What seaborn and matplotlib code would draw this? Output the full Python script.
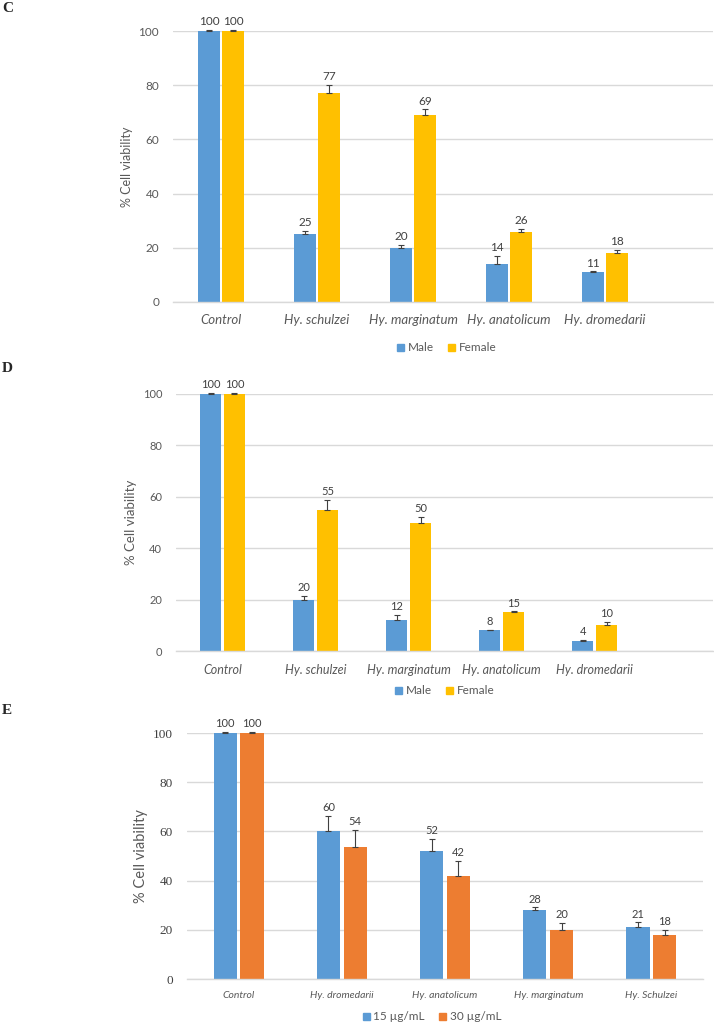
import matplotlib
matplotlib.use("Agg")
import matplotlib.pyplot as plt
import numpy as np
import pandas as pd
import seaborn as sns

sns.set_theme(style="white")
plt.rcParams['font.family'] = ['Lato', 'DejaVu Sans']

# Panel C / D: male vs female
species_cd = ['Control', 'Hy. schulzei', 'Hy. marginatum', 'Hy. anatolicum',
              'Hy. dromedarii']
sex_levels = ['Male', 'Female']

c_male = [100, 25, 20, 14, 11]
c_female = [100, 77, 69, 26, 18]
c_male_err = [0.3, 1.1, 1.0, 3.1, 0.3]
c_female_err = [0.3, 3.2, 2.1, 1.0, 1.3]

d_male = [100, 20, 12, 8, 4]
d_female = [100, 55, 50, 15, 10]
d_male_err = [0.5, 1.3, 1.9, 0.3, 0.3]
d_female_err = [0.5, 3.9, 2.1, 0.4, 1.2]

# Panel E: two concentrations
species_e = ['Control', 'Hy. dromedarii', 'Hy. anatolicum', 'Hy. marginatum',
             'Hy. Schulzei']
dose_levels = ['15 µg/mL', '30 µg/mL']
e_15 = [100, 60, 52, 28, 21]
e_30 = [100, 53.5, 42, 20, 18]
e_15_err = [0.5, 6.4, 4.9, 1.1, 2.0]
e_30_err = [0.5, 7.2, 6.1, 2.7, 1.9]

BLUE = '#5B9BD5'
YELLOW = '#FFC000'
ORANGE = '#ED7D31'
GRID = '#D9D9D9'
TXT = '#595959'


def draw_panel(ax, cats, levels, vals_a, vals_b, errs_a, errs_b, colors,
               width, gap, xmax, cat_size, tick_font, tick_size, ylab_size,
               lab_size):
    df = pd.DataFrame({
        'species': cats * 2,
        'group': [levels[0]] * len(cats) + [levels[1]] * len(cats),
        'value': list(vals_a) + list(vals_b),
    })
    sns.barplot(data=df, x='species', y='value', hue='group',
                hue_order=levels, order=cats,
                palette=dict(zip(levels, colors)), width=width, gap=gap,
                saturation=1, linewidth=0, errorbar=None, ax=ax)
    ax.get_legend().remove()

    for cont, vals, errs in zip(ax.containers, [vals_a, vals_b],
                                [errs_a, errs_b]):
        xs = [p.get_x() + p.get_width() / 2 for p in cont]
        ax.errorbar(xs, vals, yerr=[np.zeros(len(errs)), errs], fmt='none',
                    ecolor='#404040', elinewidth=0.8, capsize=2.5,
                    capthick=0.8, clip_on=False, zorder=3)
        for x, v, e in zip(xs, vals, errs):
            ax.annotate('{:.0f}'.format(v), (x, v + e),
                        textcoords='offset points', xytext=(0, 2),
                        ha='center', va='bottom', fontsize=lab_size,
                        color='#404040', annotation_clip=False)

    ax.set_ylim(0, 100)
    ax.set_yticks(np.arange(0, 101, 20))
    ax.set_xlim(-0.5, xmax)
    ax.yaxis.grid(True, color=GRID, linewidth=1)
    ax.set_axisbelow(True)
    for s in ['left', 'right', 'top']:
        ax.spines[s].set_visible(False)
    ax.spines['bottom'].set_color(GRID)
    ax.spines['bottom'].set_linewidth(1)
    ax.tick_params(axis='both', length=0, colors=TXT)
    ax.tick_params(axis='y', pad=10)
    ax.tick_params(axis='x', pad=9)
    for t in ax.get_yticklabels():
        t.set_fontfamily(tick_font)
        t.set_fontsize(tick_size)
        t.set_color('#404040' if tick_font != 'Lato' else TXT)
    for t in ax.get_xticklabels():
        t.set_fontstyle('italic')
        t.set_fontsize(cat_size)
        t.set_color(TXT)
    ax.set_xlabel('')
    ax.set_ylabel('% Cell viability', fontsize=ylab_size, color=TXT,
                  labelpad=4)
    return ax


W, H = 714, 1023
fig = plt.figure(figsize=(W / 100, H / 100), dpi=100)


def px_axes(left, right, top, bottom):
    return fig.add_axes([left / W, 1 - bottom / H, (right - left) / W,
                         (bottom - top) / H])


ax_c = px_axes(173, 713, 31, 302)
draw_panel(ax_c, species_cd, sex_levels, c_male, c_female, c_male_err,
           c_female_err, [BLUE, YELLOW], 0.5, 0.12, 5.125, 9.5, 'Lato', 8.5,
           9, 8.5)

ax_d = px_axes(176, 713, 394, 651)
draw_panel(ax_d, species_cd, sex_levels, d_male, d_female, d_male_err,
           d_female_err, [BLUE, YELLOW], 0.51, 0.12, 5.27, 9, 'Lato', 8,
           9.5, 8)

ax_e = px_axes(187, 703, 733, 979)
draw_panel(ax_e, species_e, dose_levels, e_15, e_30, e_15_err, e_30_err,
           [BLUE, ORANGE], 0.52, 0.13, 4.5, 7.5, 'Liberation Serif', 9.5,
           10.5, 8)


def add_legend(levels, colors, x, y):
    handles = [plt.Rectangle((0, 0), 1, 1, color=c) for c in colors]
    fig.legend(handles, levels, loc='center', ncol=2,
               bbox_to_anchor=(x / W, 1 - y / H), frameon=False,
               handlelength=0.6, handleheight=0.6, handletextpad=0.3,
               columnspacing=1.2, fontsize=8.5, labelcolor=TXT)


add_legend(sex_levels, [BLUE, YELLOW], 447, 348)
add_legend(sex_levels, [BLUE, YELLOW], 445, 691)
add_legend(dose_levels, [BLUE, ORANGE], 432, 1017)

for letter, y in [('C', 8), ('D', 368), ('E', 710)]:
    fig.text(2 / W, 1 - y / H, letter, fontsize=11, fontweight='bold',
             family='Liberation Serif', va='center', ha='left')

fig.savefig('out.png', dpi=100)
